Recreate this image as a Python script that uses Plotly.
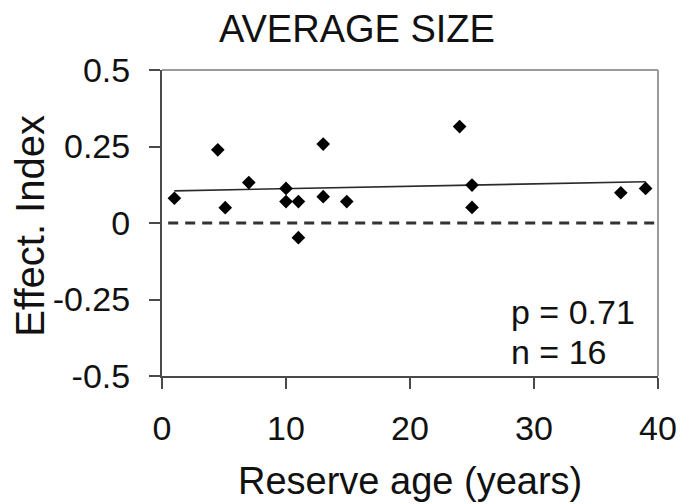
import plotly.graph_objects as go

# Data
reserve_age = [1.0, 4.5, 5.1, 7.0, 10.0, 10.0, 11.0, 11.0, 13.0, 13.0, 14.9, 24.0, 25.0, 25.0, 37.0, 39.0]
effect_index = [0.081, 0.239, 0.050, 0.132, 0.113, 0.070, 0.070, -0.048, 0.258, 0.086, 0.070, 0.315, 0.124, 0.051, 0.099, 0.113]

trend_x = [1.0, 39.0]
trend_y = [0.105, 0.135]

zero_x = [0.5, 39.7]
zero_y = [0.0, 0.0]

x_ticks = [0, 10, 20, 30, 40]
x_tick_labels = ["0", "10", "20", "30", "40"]
y_ticks = [-0.5, -0.25, 0, 0.25, 0.5]
y_tick_labels = ["-0.5", "-0.25", "0", "0.25", "0.5"]

title_text = "AVERAGE SIZE"
x_title = "Reserve age (years)"
y_title = "Effect. Index"
stats_lines = ["p = 0.71", "n = 16"]

FONT = "Liberation Sans, Arial, Helvetica, sans-serif"
TXT = "#111111"
AX = "#4a4a4a"

# the page body adds an 8px offset; compensate so the plot area lands where the reference has it
OFF = 8

fig = go.Figure()

fig.add_trace(go.Scatter(
    x=zero_x, y=zero_y, mode="lines",
    line=dict(color="#333333", width=3, dash="10px,7px"),
    hoverinfo="skip", showlegend=False,
))
fig.add_trace(go.Scatter(
    x=trend_x, y=trend_y, mode="lines",
    line=dict(color="#2a2a2a", width=1.6),
    hoverinfo="skip", showlegend=False,
))
fig.add_trace(go.Scatter(
    x=reserve_age, y=effect_index, mode="markers",
    marker=dict(symbol="diamond", size=10.5, color="#000000", line=dict(width=0)),
    showlegend=False,
))

fig.update_layout(
    width=689 - OFF, height=504 - OFF,
    margin=dict(l=162 - OFF, r=25, t=70 - OFF, b=128, pad=0),
    paper_bgcolor="white", plot_bgcolor="white",
    font=dict(family=FONT, color=TXT, size=34),
    showlegend=False,
    xaxis=dict(
        range=[0, 40], tickvals=x_ticks, ticktext=x_tick_labels,
        showgrid=False, zeroline=False,
        showline=True, linecolor=AX, linewidth=2,
        ticks="outside", ticklen=11, tickwidth=2, tickcolor=AX,
        tickfont=dict(size=34, color=TXT, family=FONT),
        ticklabelstandoff=10,
    ),
    yaxis=dict(
        range=[-0.5, 0.5], tickvals=y_ticks, ticktext=y_tick_labels,
        showgrid=False, zeroline=False,
        showline=True, linecolor=AX, linewidth=2,
        ticks="outside", ticklen=11, tickwidth=2, tickcolor=AX,
        tickfont=dict(size=34, color=TXT, family=FONT),
        ticklabelstandoff=12,
    ),
)

# light frame on the top and right sides
fig.add_shape(type="line", xref="paper", yref="paper", x0=0, x1=1, y0=1, y1=1,
              line=dict(color="#9a9a9a", width=2))
fig.add_shape(type="line", xref="paper", yref="paper", x0=1, x1=1, y0=0, y1=1,
              line=dict(color="#9a9a9a", width=2))

fig.add_annotation(text=title_text, xref="paper", yref="paper",
                   x=(359 - 162) / 502, y=1 + 41 / 306, xanchor="center", yanchor="middle",
                   showarrow=False, font=dict(size=38, color=TXT, family=FONT))
fig.add_annotation(text=x_title, xref="paper", yref="paper",
                   x=0.5, y=-(105 / 306), xanchor="center", yanchor="middle",
                   showarrow=False, font=dict(size=38, color=TXT, family=FONT))
fig.add_annotation(text=y_title, xref="paper", yref="paper",
                   x=-(134 / 502), y=0.49, xanchor="center", yanchor="middle",
                   textangle=-90, showarrow=False, font=dict(size=40, color=TXT, family=FONT))
fig.add_annotation(text=stats_lines[0], xref="paper", yref="paper",
                   x=(513 - 162) / 502, y=(376 - 312) / 306, xanchor="left", yanchor="middle",
                   showarrow=False, font=dict(size=34, color=TXT, family=FONT))
fig.add_annotation(text=stats_lines[1], xref="paper", yref="paper",
                   x=(513 - 162) / 502, y=(376 - 352) / 306, xanchor="left", yanchor="middle",
                   showarrow=False, font=dict(size=34, color=TXT, family=FONT))

fig.write_html("out.html")
